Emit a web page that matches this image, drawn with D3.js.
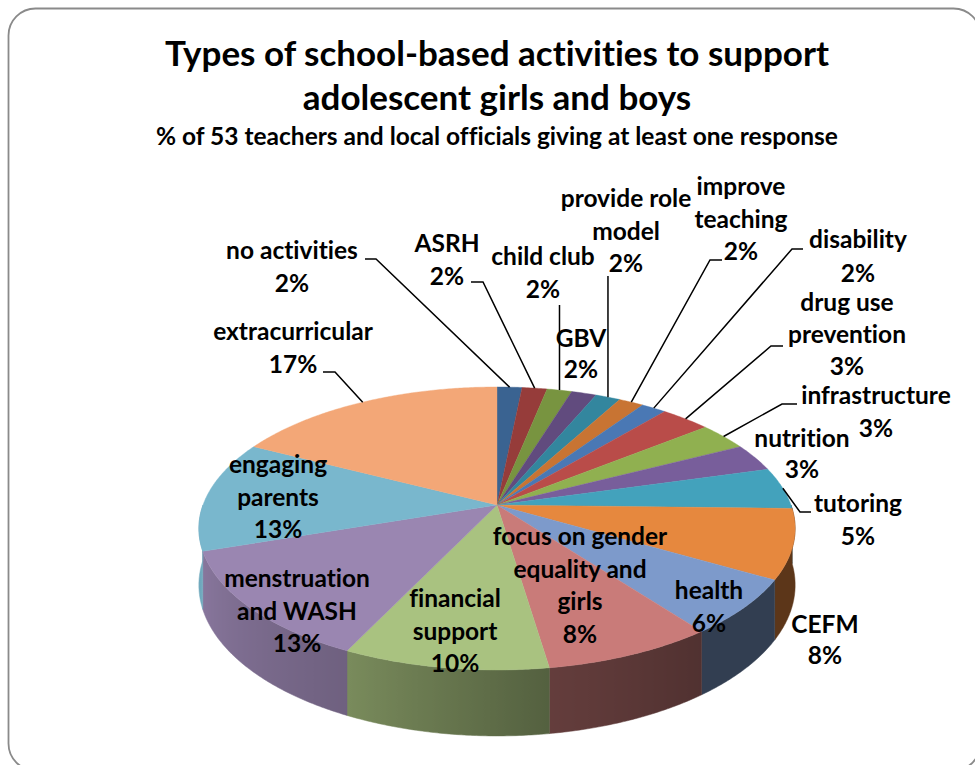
<!DOCTYPE html>
<html>
<head>
<meta charset="utf-8">
<script src="https://cdn.jsdelivr.net/npm/d3@7"></script>
<style>
  html, body { margin: 0; padding: 0; background: #ffffff; }
  svg { display: block; }
  text {
    font-family: Lato, "Open Sans", sans-serif; font-weight: 700; fill: #000;
    font-variant-ligatures: none; font-feature-settings: "liga" 0, "clig" 0;
  }
</style>
</head>
<body>
<svg id="chart" width="975" height="765"></svg>
<script>
// ---- data ----
const categories = [
  "no activities", "ASRH", "child club", "GBV", "provide role model",
  "improve teaching", "disability", "drug use prevention", "infrastructure",
  "nutrition", "tutoring", "CEFM", "health", "focus on gender equality and girls",
  "financial support", "menstruation and WASH", "engaging parents", "extracurricular"
];
// number of responses per activity type
const responses = [1, 1, 1, 1, 1, 1, 1, 2, 2, 2, 3, 5, 4, 5, 6, 8, 8, 11];

const titleLines = ["Types of school-based activities to support", "adolescent girls and boys"];
const subtitle = "% of 53 teachers and local officials giving at least one response";

// ---- styles ----
const sliceColors = [
  "#3a6391", "#963c3a", "#789440", "#614b7e", "#33869e", "#c87433",
  "#4a78b4", "#b94c49", "#90b050", "#785e9b", "#43a2bc", "#e6883e",
  "#7d9acb", "#c97b79", "#a9c280", "#9a86b1", "#79b7cd", "#f3a777"
];

// label placement: wrapped lines, centre x, first baseline, and leader elbows
const labelLayout = {
  "no activities":        { lines: ["no activities"], x: 292, y: 259, leader: [[365, 259], [376, 259]] },
  "ASRH":                 { lines: ["ASRH"], x: 447, y: 252, leader: [[471, 282], [483, 282]] },
  "child club":           { lines: ["child club"], x: 543, y: 265, vertical: 305 },
  "GBV":                  { lines: ["GBV"], x: 581, y: 347, gap: 31 },
  "provide role model":   { lines: ["provide role", "model"], x: 626, y: 207, vertical: 276 },
  "improve teaching":     { lines: ["improve", "teaching"], x: 741, y: 195, leader: [[722, 260], [710, 260]] },
  "disability":           { lines: ["disability"], x: 858, y: 248, gap: 34, leader: [[803, 249], [792, 249]] },
  "drug use prevention":  { lines: ["drug use", "prevention"], x: 847, y: 311, gap: 32, leader: [[783, 346], [771, 346]] },
  "infrastructure":       { lines: ["infrastructure"], x: 876, y: 404, gap: 33, leader: [[797, 404], [782, 404]] },
  "nutrition":            { lines: ["nutrition"], x: 802, y: 447, gap: 31 },
  "tutoring":             { lines: ["tutoring"], x: 858, y: 512, leader: [[811, 512], [800, 512]] },
  "CEFM":                 { lines: ["CEFM"], x: 825, y: 633, gap: 31 },
  "health":               { lines: ["health"], x: 709, y: 599 },
  "focus on gender equality and girls": { lines: ["focus on gender", "equality and", "girls"], x: 580, y: 545 },
  "financial support":    { lines: ["financial", "support"], x: 455, y: 607 },
  "menstruation and WASH": { lines: ["menstruation", "and WASH"], x: 297, y: 587 },
  "engaging parents":     { lines: ["engaging", "parents"], x: 278, y: 473 },
  "extracurricular":      { lines: ["extracurricular"], x: 293, y: 340, leader: [[323, 372], [335, 372]] }
};

// ---- geometry of the tilted pie ----
const cx = 497, cy = 505;     // apex of the slices on the top face
const rx = 294, ry = 137.6;   // radii of the top face
const persp = 0.166;          // perspective: near edge larger than far edge
const depth = 55;             // thickness of the pie

function project(theta, drop = 0) {
  const u = Math.sin(theta), v = -Math.cos(theta);
  const p = 1 / (1 - persp * v);
  return [cx + rx * u * p, cy + ry * v * p + drop * p];
}

// brightness of the outer wall as it turns away from the light (left bright, right dark)
const deg = Math.PI / 180;
const wallShade = d3.scaleLinear()
  .domain([90 * deg, 143 * deg, 172 * deg, 206 * deg, 250 * deg, 270 * deg])
  .range([0.40, 0.40, 0.50, 0.72, 0.88, 0.94])
  .clamp(true);

function shade(color, k) {
  const c = d3.rgb(color);
  return d3.rgb(c.r * k, c.g * k, c.b * k).formatHex();
}

const svg = d3.select("#chart");
const defs = svg.append("defs");

// frame
svg.append("rect")
  .attr("x", 8.5).attr("y", 8.5)
  .attr("width", 972).attr("height", 762)
  .attr("rx", 27).attr("ry", 27)
  .attr("fill", "#ffffff")
  .attr("stroke", "#8a8a8a")
  .attr("stroke-width", 1.8);

// titles
const titleG = svg.append("g").attr("text-anchor", "middle");
titleLines.forEach((t, i) => {
  titleG.append("text").attr("x", 497).attr("y", 66 + i * 44)
    .style("font-size", "35px").text(t);
});
titleG.append("text").attr("x", 497).attr("y", 145)
  .style("font-size", "24.5px").text(subtitle);

const total = d3.sum(responses);
const pct = v => Math.round(v / total * 100) + "%";

const arcs = d3.pie().sort(null).value(d => d)
  .startAngle(0).endAngle(2 * Math.PI)(responses);

const pie = svg.append("g");
const toPath = pts => "M" + pts.map(p => p[0].toFixed(2) + "," + p[1].toFixed(2)).join("L") + "Z";

// outer walls on the front half, each shaded with a horizontal gradient
const wallG = pie.append("g");
arcs.forEach((a, i) => {
  const lo = Math.max(a.startAngle, 90 * deg);
  const hi = Math.min(a.endAngle, 270 * deg);
  if (lo >= hi) return;
  const n = Math.max(4, Math.ceil((hi - lo) / (0.5 * deg)));
  const angles = d3.range(n + 1).map(k => lo + (hi - lo) * k / n);
  const top = angles.map(t => project(t));
  const bottom = angles.map(t => project(t, depth)).reverse();
  const xs = top.concat(bottom).map(p => p[0]);
  const x1 = d3.min(xs), x2 = d3.max(xs);
  const gid = "wall-" + i;
  const grad = defs.append("linearGradient").attr("id", gid)
    .attr("gradientUnits", "userSpaceOnUse")
    .attr("x1", x1).attr("x2", x2).attr("y1", 0).attr("y2", 0);
  const stops = angles.map(t => ({
    off: x2 > x1 ? (project(t)[0] - x1) / (x2 - x1) : 0,
    col: shade(sliceColors[i], wallShade(t))
  })).sort((p, q) => p.off - q.off);
  stops.forEach(s => grad.append("stop").attr("offset", s.off).attr("stop-color", s.col));
  wallG.append("path")
    .attr("d", toPath(top.concat(bottom)))
    .attr("fill", `url(#${gid})`)
    .attr("stroke", `url(#${gid})`).attr("stroke-width", 0.5);
});

// top faces
const topG = pie.append("g");
arcs.forEach((a, i) => {
  const n = Math.max(2, Math.ceil((a.endAngle - a.startAngle) / (0.5 * deg)));
  const pts = [[cx, cy]];
  for (let k = 0; k <= n; k++) {
    pts.push(project(a.startAngle + (a.endAngle - a.startAngle) * k / n));
  }
  topG.append("path")
    .attr("d", toPath(pts))
    .attr("fill", sliceColors[i])
    .attr("stroke", sliceColors[i]).attr("stroke-width", 0.4);
});

// leader lines
const leaderG = svg.append("g").attr("fill", "none").attr("stroke", "#000").attr("stroke-width", 1.5);
arcs.forEach((a, i) => {
  const lay = labelLayout[categories[i]];
  const anchor = project((a.startAngle + a.endAngle) / 2);
  let pts = null;
  if (lay.leader) pts = [...lay.leader, anchor];
  else if (lay.vertical) pts = [[anchor[0], lay.vertical], anchor];
  if (pts) leaderG.append("path").attr("d", d3.line()(pts));
});

// labels
const labelG = svg.append("g").attr("text-anchor", "middle").style("font-size", "24.5px");
arcs.forEach((a, i) => {
  const lay = labelLayout[categories[i]];
  const gap = lay.gap || 32.5;
  const t = labelG.append("text");
  [...lay.lines, pct(a.value)].forEach((s, j) => {
    t.append("tspan").attr("x", lay.x).attr("y", lay.y + j * gap).text(s);
  });
});
</script>
</body>
</html>
